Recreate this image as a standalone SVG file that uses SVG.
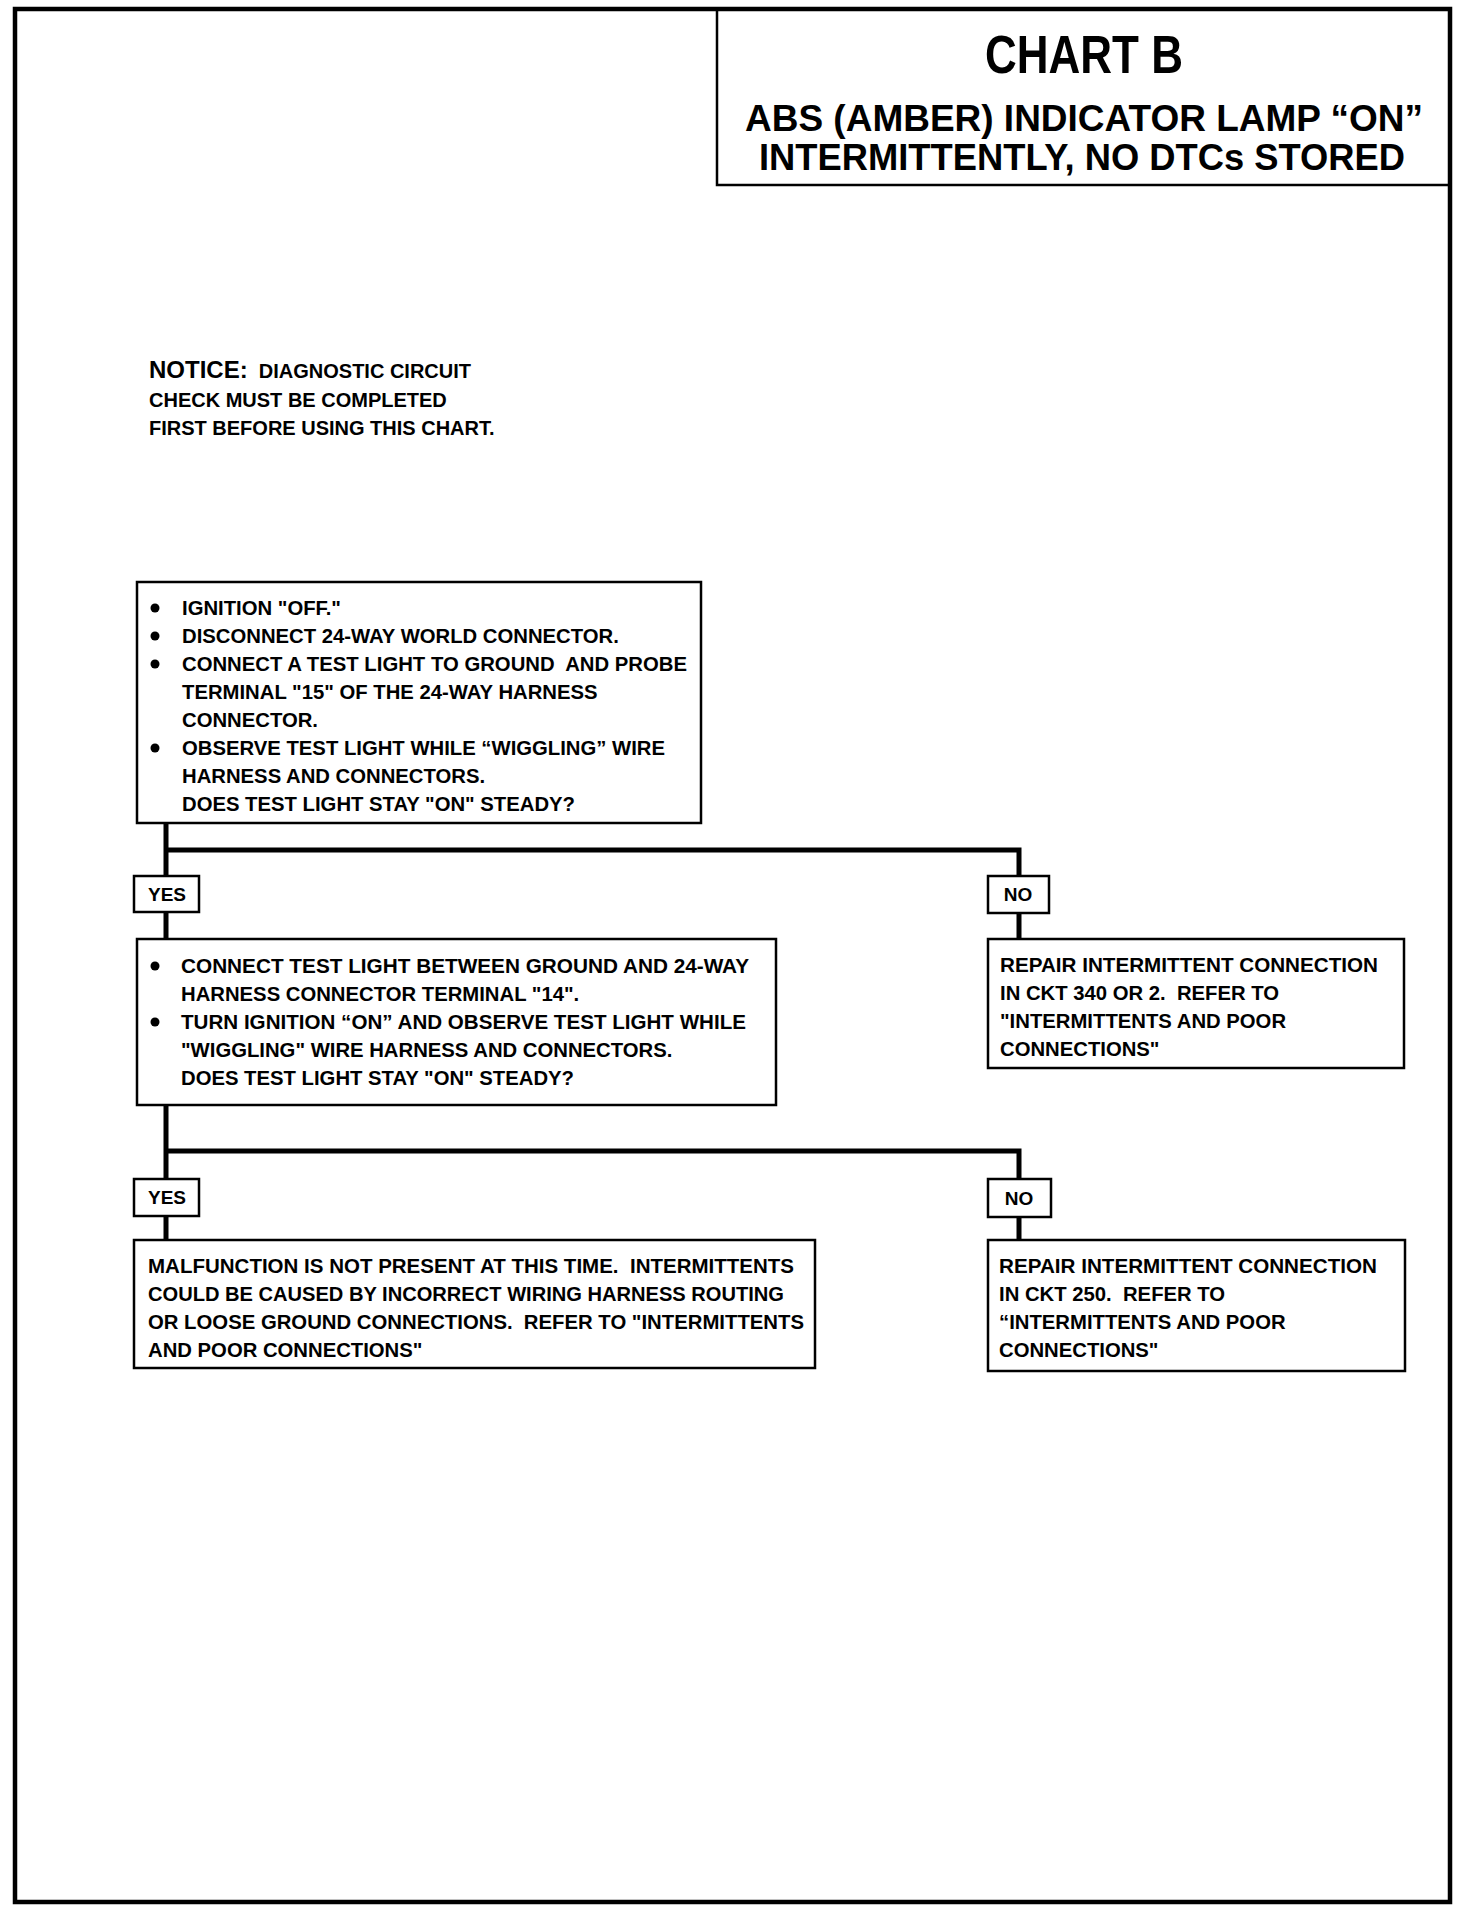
<svg xmlns="http://www.w3.org/2000/svg" width="1472" height="1912" viewBox="0 0 1472 1912">
<style>
.t{font-family:"Liberation Sans",Arial,sans-serif;font-weight:bold;font-size:20.3px;fill:#000;white-space:pre}
.n{font-family:"Liberation Sans",Arial,sans-serif;font-weight:bold;font-size:20px;fill:#000;white-space:pre}
.h{font-family:"Liberation Sans",Arial,sans-serif;font-weight:bold;fill:#000;text-anchor:middle}
.box{fill:#fff;stroke:#000;stroke-width:2.5}
.con{fill:none;stroke:#000;stroke-width:5}
.lbl{font-family:"Liberation Sans",Arial,sans-serif;font-weight:bold;font-size:19px;fill:#000;text-anchor:middle}
</style>
<rect x="0" y="0" width="1472" height="1912" fill="#fff"/>
<rect id="frame" x="15" y="9" width="1435" height="1893" fill="none" stroke="#000" stroke-width="4.5"/>
<g id="title">
<path d="M717,9 V185 H1450" fill="none" stroke="#000" stroke-width="2.5"/>
<text class="h" x="1084" y="73" font-size="54" textLength="198" lengthAdjust="spacingAndGlyphs">CHART B</text>
<text class="h" x="1084" y="131" font-size="36" textLength="678" lengthAdjust="spacingAndGlyphs">ABS (AMBER) INDICATOR LAMP “ON”</text>
<text class="h" x="1082" y="170" font-size="36" textLength="646" lengthAdjust="spacingAndGlyphs">INTERMITTENTLY, NO DTCs STORED</text>
</g>
<g id="notice">
<text class="n" x="149" y="378"><tspan font-size="24">NOTICE:</tspan>  DIAGNOSTIC CIRCUIT</text>
<text class="n" x="149" y="407">CHECK MUST BE COMPLETED</text>
<text class="n" x="149" y="435">FIRST BEFORE USING THIS CHART.</text>
</g>
<g id="connectors">
<path class="con" d="M166,823 V876 M166,850 H1019 V876 M166,912 V939 M1019,913 V939"/>
<path class="con" d="M166,1105 V1179 M166,1151 H1019 V1179 M166,1216 V1240 M1019,1217 V1240"/>
</g>
<g id="step1">
<rect class="box" x="137" y="582" width="564" height="241"/>
<circle cx="155" cy="608" r="4.5"/><circle cx="155" cy="636" r="4.5"/><circle cx="155" cy="664" r="4.5"/><circle cx="155" cy="748" r="4.5"/>
<text class="t" x="182" y="615">IGNITION "OFF."</text>
<text class="t" x="182" y="643">DISCONNECT 24-WAY WORLD CONNECTOR.</text>
<text class="t" x="182" y="671" textLength="505" lengthAdjust="spacingAndGlyphs">CONNECT A TEST LIGHT TO GROUND  AND PROBE</text>
<text class="t" x="182" y="699">TERMINAL "15" OF THE 24-WAY HARNESS</text>
<text class="t" x="182" y="727">CONNECTOR.</text>
<text class="t" x="182" y="755">OBSERVE TEST LIGHT WHILE “WIGGLING” WIRE</text>
<text class="t" x="182" y="783">HARNESS AND CONNECTORS.</text>
<text class="t" x="182" y="811">DOES TEST LIGHT STAY "ON" STEADY?</text>
</g>
<g id="yes1">
<rect class="box" x="134" y="876" width="65" height="36"/>
<text class="lbl" x="167" y="901">YES</text>
</g>
<g id="no1">
<rect class="box" x="988" y="876" width="61" height="37"/>
<text class="lbl" x="1018" y="901">NO</text>
</g>
<g id="step2">
<rect class="box" x="137" y="939" width="639" height="166"/>
<circle cx="155" cy="966" r="4.5"/><circle cx="155" cy="1022" r="4.5"/>
<text class="t" x="181" y="973" textLength="568" lengthAdjust="spacingAndGlyphs">CONNECT TEST LIGHT BETWEEN GROUND AND 24-WAY</text>
<text class="t" x="181" y="1001">HARNESS CONNECTOR TERMINAL "14".</text>
<text class="t" x="181" y="1029" textLength="565" lengthAdjust="spacingAndGlyphs">TURN IGNITION “ON” AND OBSERVE TEST LIGHT WHILE</text>
<text class="t" x="181" y="1057">"WIGGLING" WIRE HARNESS AND CONNECTORS.</text>
<text class="t" x="181" y="1085">DOES TEST LIGHT STAY "ON" STEADY?</text>
</g>
<g id="repair1">
<rect class="box" x="988" y="939" width="416" height="129"/>
<text class="t" x="1000" y="972" textLength="378" lengthAdjust="spacingAndGlyphs">REPAIR INTERMITTENT CONNECTION</text>
<text class="t" x="1000" y="1000">IN CKT 340 OR 2.  REFER TO</text>
<text class="t" x="1000" y="1028">"INTERMITTENTS AND POOR</text>
<text class="t" x="1000" y="1056">CONNECTIONS"</text>
</g>
<g id="yes2">
<rect class="box" x="134" y="1179" width="65" height="37"/>
<text class="lbl" x="167" y="1204">YES</text>
</g>
<g id="no2">
<rect class="box" x="988" y="1179" width="63" height="38"/>
<text class="lbl" x="1019" y="1205">NO</text>
</g>
<g id="result">
<rect class="box" x="134" y="1240" width="681" height="128"/>
<text class="t" x="148" y="1273" textLength="646" lengthAdjust="spacingAndGlyphs">MALFUNCTION IS NOT PRESENT AT THIS TIME.  INTERMITTENTS</text>
<text class="t" x="148" y="1301" textLength="636" lengthAdjust="spacingAndGlyphs">COULD BE CAUSED BY INCORRECT WIRING HARNESS ROUTING</text>
<text class="t" x="148" y="1329" textLength="656" lengthAdjust="spacingAndGlyphs">OR LOOSE GROUND CONNECTIONS.  REFER TO "INTERMITTENTS</text>
<text class="t" x="148" y="1357">AND POOR CONNECTIONS"</text>
</g>
<g id="repair2">
<rect class="box" x="988" y="1240" width="417" height="131"/>
<text class="t" x="999" y="1273" textLength="378" lengthAdjust="spacingAndGlyphs">REPAIR INTERMITTENT CONNECTION</text>
<text class="t" x="999" y="1301">IN CKT 250.  REFER TO</text>
<text class="t" x="999" y="1329">“INTERMITTENTS AND POOR</text>
<text class="t" x="999" y="1357">CONNECTIONS"</text>
</g>
</svg>
